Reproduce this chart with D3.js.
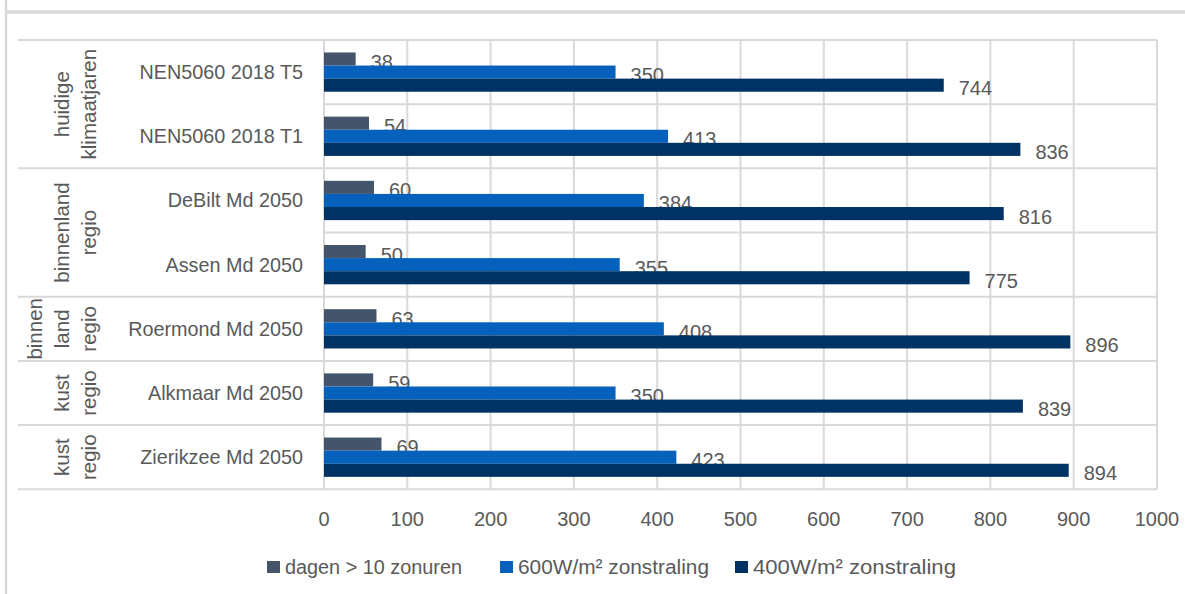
<!DOCTYPE html>
<html>
<head>
<meta charset="utf-8">
<script src="https://cdn.jsdelivr.net/npm/d3@7"></script>
<style>
  html, body { margin: 0; padding: 0; background: #fff; }
  svg text { font-family: "Liberation Sans", Arial, sans-serif; fill: #595959; }
</style>
</head>
<body>
<svg id="chart" width="1185" height="594"></svg>
<script>
// ---- data ----
const categories = ["NEN5060 2018 T5", "NEN5060 2018 T1", "DeBilt Md 2050", "Assen Md 2050",
                    "Roermond Md 2050", "Alkmaar Md 2050", "Zierikzee Md 2050"];
const groupLabels = [["huidige", "klimaatjaren"], ["binnenland", "regio"], ["binnen", "land", "regio"],
                     ["kust", "regio"], ["kust", "regio"]];
const groupSizes = [2, 2, 1, 1, 1];
const seriesNames = ["dagen > 10 zonuren", "600W/m² zonstraling", "400W/m² zonstraling"];
const dagen = [38, 54, 60, 50, 63, 59, 69];
const zon600 = [350, 413, 384, 355, 408, 350, 423];
const zon400 = [744, 836, 816, 775, 896, 839, 894];
const xTicks = [0, 100, 200, 300, 400, 500, 600, 700, 800, 900, 1000];

const seriesValues = [dagen, zon600, zon400];
const colors = ["#44546A", "#0561BB", "#003363"];

(function () {
const svg = d3.select("#chart");
const W = 1185, H = 594;
const pL = 324, pR = 1157, pT = 40, pB = 489.3;
const grid = "#D9D9D9";

// outer chart frame
svg.append("line").attr("x1", 6).attr("x2", 6).attr("y1", 0).attr("y2", H)
  .attr("stroke", grid).attr("stroke-width", 2.5);
svg.append("line").attr("x1", 6).attr("x2", W).attr("y1", 12).attr("y2", 12)
  .attr("stroke", grid).attr("stroke-width", 3.5);

const x = d3.scaleLinear().domain([0, 1000]).range([pL, pR]);
const y = d3.scaleBand().domain(categories).range([pT, pB]).paddingInner(0).paddingOuter(0);
const inner = d3.scaleBand().domain([0, 1, 2]).range([0, y.bandwidth()]).paddingOuter(0.95).paddingInner(0);

// vertical gridlines
svg.append("g").selectAll("line").data(xTicks).join("line")
  .attr("x1", d => x(d)).attr("x2", d => x(d))
  .attr("y1", pT).attr("y2", pB)
  .attr("stroke", grid).attr("stroke-width", 2);

// horizontal category lines (plot area)
const boundaries = categories.map(c => y(c)).concat([pB]);
svg.append("g").selectAll("line").data(boundaries).join("line")
  .attr("x1", pL).attr("x2", pR)
  .attr("y1", d => d).attr("y2", d => d)
  .attr("stroke", grid).attr("stroke-width", 2);

// group separators extending into label area
let idx = 0;
const groupBounds = [y(categories[0])];
const groupCenters = [];
groupSizes.forEach(n => {
  const y0 = y(categories[idx]);
  idx += n;
  const y1 = idx < categories.length ? y(categories[idx]) : pB;
  groupBounds.push(y1);
  groupCenters.push((y0 + y1) / 2);
});
svg.append("g").selectAll("line").data(groupBounds).join("line")
  .attr("x1", 18).attr("x2", pL)
  .attr("y1", d => d).attr("y2", d => d)
  .attr("stroke", grid).attr("stroke-width", 2);

// axis line at 0
svg.append("line").attr("x1", pL).attr("x2", pL).attr("y1", pT).attr("y2", pB)
  .attr("stroke", grid).attr("stroke-width", 2);

// bars + labels, series by series (labels get partly covered by next series)
seriesValues.forEach((vals, s) => {
  const g = svg.append("g");
  g.selectAll("rect").data(vals).join("rect")
    .attr("x", x(0))
    .attr("y", (d, i) => y(categories[i]) + inner(s))
    .attr("width", d => x(d) - x(0))
    .attr("height", inner.bandwidth())
    .attr("fill", colors[s]);
  g.selectAll("text").data(vals).join("text")
    .attr("x", d => x(d) + 15)
    .attr("y", (d, i) => y(categories[i]) + inner(s) + inner.bandwidth() / 2 + 3)
    .attr("dominant-baseline", "central")
    .attr("font-size", 20)
    .text(d => d);
});

// category labels
svg.append("g").selectAll("text").data(categories).join("text")
  .attr("x", pL - 21)
  .attr("y", d => y(d) + y.bandwidth() / 2)
  .attr("text-anchor", "end")
  .attr("dominant-baseline", "central")
  .attr("font-size", 19.8)
  .text(d => d);

// group labels (rotated)
groupLabels.forEach((lines, gi) => {
  const cy = groupCenters[gi];
  const n = lines.length;
  lines.forEach((t, li) => {
    const cx = 88 - (n - 1 - li) * 27;
    svg.append("text")
      .attr("transform", `translate(${cx},${cy}) rotate(-90)`)
      .attr("text-anchor", "middle")
      .attr("dominant-baseline", "central")
      .attr("font-size", 20.5)
      .text(t);
  });
});

// x tick labels
svg.append("g").selectAll("text").data(xTicks).join("text")
  .attr("x", d => x(d))
  .attr("y", 519)
  .attr("text-anchor", "middle")
  .attr("dominant-baseline", "central")
  .attr("font-size", 20)
  .text(d => d);

// legend
const legendX = [267, 500, 735];
const legendW = [177, 191, 203];
seriesNames.forEach((name, i) => {
  svg.append("rect").attr("x", legendX[i]).attr("y", 561).attr("width", 13).attr("height", 12)
    .attr("fill", colors[i]);
  svg.append("text").attr("x", legendX[i] + 18).attr("y", 567)
    .attr("dominant-baseline", "central")
    .attr("font-size", 20)
    .attr("textLength", legendW[i])
    .attr("lengthAdjust", "spacingAndGlyphs")
    .text(name);
});
})();
</script>
</body>
</html>
